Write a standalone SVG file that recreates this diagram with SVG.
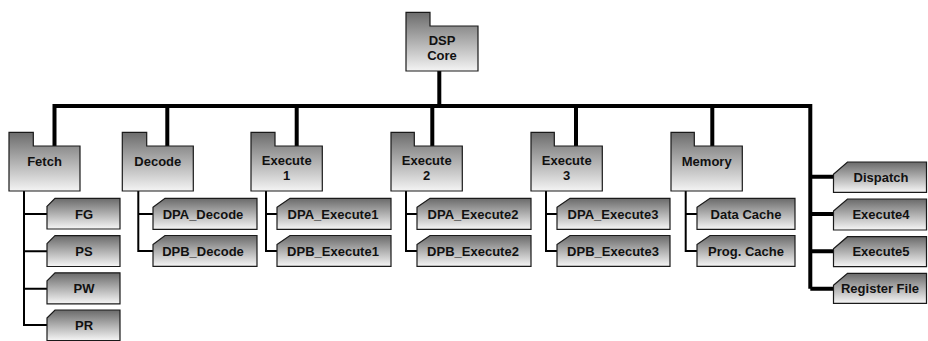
<svg xmlns="http://www.w3.org/2000/svg" width="928" height="341" viewBox="0 0 928 341">
  <defs>
    <linearGradient id="gFolder" x1="0" y1="0" x2="0" y2="1">
      <stop offset="0" stop-color="#6c6c6c"/>
      <stop offset="1" stop-color="#f4f4f4"/>
    </linearGradient>
    <linearGradient id="gTab" x1="0" y1="0" x2="0" y2="1">
      <stop offset="0" stop-color="#6a6a6a"/>
      <stop offset="1" stop-color="#f6f6f6"/>
    </linearGradient>
  </defs>
  <style>
    .folder { fill: url(#gFolder); stroke: #1a1a1a; stroke-width: 1.2; }
    .tab { fill: url(#gTab); stroke: #1a1a1a; stroke-width: 1.2; }
    .lbl { font-family: "Liberation Sans", Arial, sans-serif; font-weight: bold; font-size: 13px; fill: #111; text-anchor: middle; }
    .bus { stroke: #000; stroke-width: 4; fill: none; }
    .sub { stroke: #000; stroke-width: 2; fill: none; }
  </style>
  <rect width="928" height="341" fill="#fff"/>

  <!-- connectors -->
  <g id="connectors">
    <path class="bus" d="M439.3,71 V106"/>
    <path class="bus" d="M54.5,146 V106 H810.3 V288.7"/>
    <path class="bus" d="M167.3,106 V146 M296.7,106 V146 M432.3,106 V146 M576,106 V146 M712.3,106 V146"/>
    <path class="bus" d="M810.3,176.7 H833.5 M810.3,214 H833.5 M810.3,251.3 H833.5 M810.3,288.7 H833.5"/>
    <path class="sub" d="M24,191 V325 H47 M24,214 H47 M24,251.3 H47 M24,288.7 H47"/>
    <path class="sub" d="M138.3,191 V251 H153 M138.3,214 H153"/>
    <path class="sub" d="M266,191 V251 H277 M266,214 H277"/>
    <path class="sub" d="M406,191 V251 H417 M406,214 H417"/>
    <path class="sub" d="M546,191 V251 H557 M546,214 H557"/>
    <path class="sub" d="M685.7,191 V251 H697 M685.7,214 H697"/>
  </g>

  <!-- root -->
  <g id="dsp-core">
    <path class="folder" d="M406,12.3 H430 V26 H478 V71 H406 Z"/>
    <text class="lbl" x="442" y="45">DSP</text>
    <text class="lbl" x="442" y="60">Core</text>
  </g>

  <!-- pipeline stages -->
  <g id="fetch">
    <path class="folder" d="M9,132.3 H33.3 V146 H80 V191 H9 Z"/>
    <text class="lbl" x="44.5" y="165.5">Fetch</text>
  </g>
  <g id="decode">
    <path class="folder" d="M122.3,132.3 H146.7 V146 H193.3 V191 H122.3 Z"/>
    <text class="lbl" x="157.8" y="165.5">Decode</text>
  </g>
  <g id="execute1">
    <path class="folder" d="M251,132.3 H275 V146 H322.3 V191 H251 Z"/>
    <text class="lbl" x="286.7" y="164.5">Execute</text>
    <text class="lbl" x="286.7" y="179.5">1</text>
  </g>
  <g id="execute2">
    <path class="folder" d="M391,132.3 H414.3 V146 H462.3 V191 H391 Z"/>
    <text class="lbl" x="426.7" y="164.5">Execute</text>
    <text class="lbl" x="426.7" y="179.5">2</text>
  </g>
  <g id="execute3">
    <path class="folder" d="M531,132.3 H554.3 V146 H602.3 V191 H531 Z"/>
    <text class="lbl" x="566.7" y="164.5">Execute</text>
    <text class="lbl" x="566.7" y="179.5">3</text>
  </g>
  <g id="memory">
    <path class="folder" d="M671,132.3 H694.3 V146 H742.3 V191 H671 Z"/>
    <text class="lbl" x="706.7" y="165.5">Memory</text>
  </g>

  <!-- fetch sub-stages -->
  <g id="fg">
    <path class="tab" d="M47,206.3 L55,198.3 H120 V229 H47 Z"/>
    <text class="lbl" x="84" y="218.5">FG</text>
  </g>
  <g id="ps">
    <path class="tab" d="M47,243.7 L55,235.7 H120 V266.5 H47 Z"/>
    <text class="lbl" x="84" y="255.8">PS</text>
  </g>
  <g id="pw">
    <path class="tab" d="M47,280.8 L55,272.8 H120 V303.8 H47 Z"/>
    <text class="lbl" x="84" y="293">PW</text>
  </g>
  <g id="pr">
    <path class="tab" d="M47,318 L55,310 H120 V340.7 H47 Z"/>
    <text class="lbl" x="84" y="330">PR</text>
  </g>

  <!-- decode sub-stages -->
  <g id="dpa-decode">
    <path class="tab" d="M153,207.3 L165,198.3 H257 V229.3 H153 Z"/>
    <text class="lbl" x="203" y="218.5">DPA_Decode</text>
  </g>
  <g id="dpb-decode">
    <path class="tab" d="M153,244.5 L165,235.5 H257 V266.3 H153 Z"/>
    <text class="lbl" x="203" y="255.5">DPB_Decode</text>
  </g>

  <!-- execute sub-stages -->
  <g id="dpa-execute1">
    <path class="tab" d="M277,207.3 L290,198.3 H391 V229.3 H277 Z"/>
    <text class="lbl" x="333" y="218.5">DPA_Execute1</text>
  </g>
  <g id="dpb-execute1">
    <path class="tab" d="M277,244.5 L290,235.5 H391 V266.3 H277 Z"/>
    <text class="lbl" x="333" y="255.5">DPB_Execute1</text>
  </g>
  <g id="dpa-execute2">
    <path class="tab" d="M417,207.3 L430,198.3 H531 V229.3 H417 Z"/>
    <text class="lbl" x="473" y="218.5">DPA_Execute2</text>
  </g>
  <g id="dpb-execute2">
    <path class="tab" d="M417,244.5 L430,235.5 H531 V266.3 H417 Z"/>
    <text class="lbl" x="473" y="255.5">DPB_Execute2</text>
  </g>
  <g id="dpa-execute3">
    <path class="tab" d="M557,207.3 L570,198.3 H670 V229.3 H557 Z"/>
    <text class="lbl" x="613" y="218.5">DPA_Execute3</text>
  </g>
  <g id="dpb-execute3">
    <path class="tab" d="M557,244.5 L570,235.5 H670 V266.3 H557 Z"/>
    <text class="lbl" x="613" y="255.5">DPB_Execute3</text>
  </g>

  <!-- memory sub-units -->
  <g id="data-cache">
    <path class="tab" d="M697,207.3 L710,198.3 H795 V229.3 H697 Z"/>
    <text class="lbl" x="746" y="218.5">Data Cache</text>
  </g>
  <g id="prog-cache">
    <path class="tab" d="M697,244.5 L710,235.5 H795 V266.3 H697 Z"/>
    <text class="lbl" x="746" y="255.5">Prog. Cache</text>
  </g>

  <!-- shared units -->
  <g id="dispatch">
    <path class="tab" d="M833.5,174.3 L847.5,162 H926.5 V192.3 H833.5 Z"/>
    <text class="lbl" x="881" y="181.5">Dispatch</text>
  </g>
  <g id="execute4">
    <path class="tab" d="M833.5,211 L847.5,199 H926.5 V230 H833.5 Z"/>
    <text class="lbl" x="881" y="219">Execute4</text>
  </g>
  <g id="execute5">
    <path class="tab" d="M833.5,248.7 L847.5,236.7 H926.5 V266.7 H833.5 Z"/>
    <text class="lbl" x="881" y="256">Execute5</text>
  </g>
  <g id="register-file">
    <path class="tab" d="M833.5,285.3 L847.5,273.3 H926.5 V303.3 H833.5 Z"/>
    <text class="lbl" x="880" y="293">Register File</text>
  </g>
</svg>
